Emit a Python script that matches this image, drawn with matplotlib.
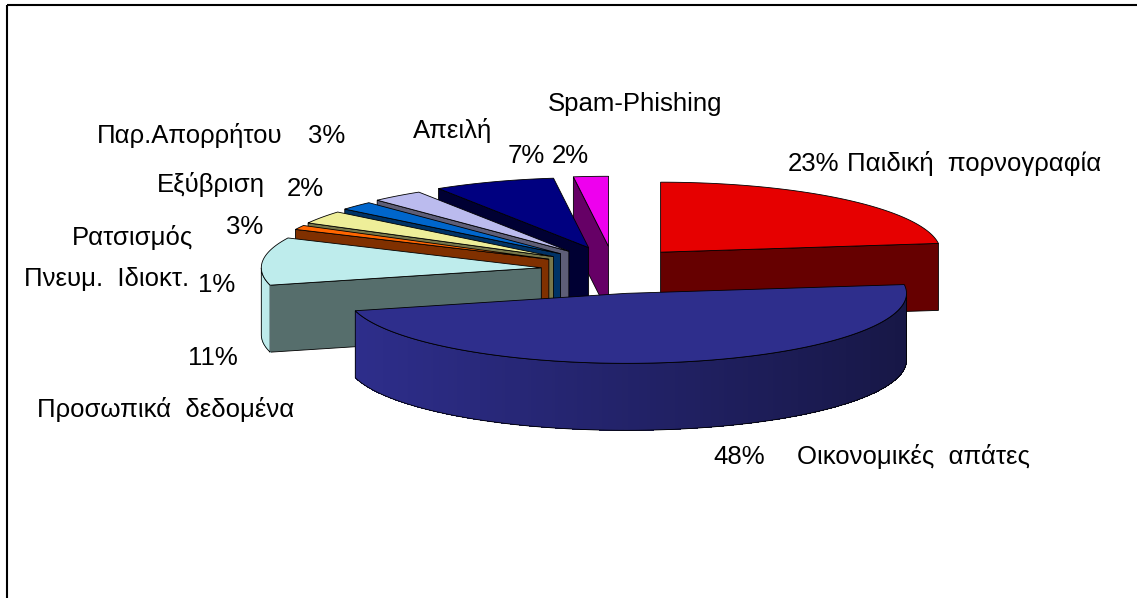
import numpy as np
import matplotlib.pyplot as plt
from matplotlib.patches import Polygon, Rectangle
from matplotlib.collections import PolyCollection
from matplotlib.colors import to_rgb

# data: categories, percentages (clockwise from 12 o'clock)
categories = ['Παιδική  πορνογραφία', 'Οικονομικές  απάτες', 'Προσωπικά  δεδομένα',
              'Πνευμ.  Ιδιοκτ.', 'Ρατσισμός', 'Εξύβριση', 'Παρ.Απορρήτου',
              'Απειλή', 'Spam-Phishing']
values = [23, 48, 11, 1, 3, 2, 3, 7, 2]
top_colors = ['#E60000', '#2E2E8C', '#BEECEC', '#FF6600', '#EEEE99',
              '#0066CC', '#BBBBEE', '#000080', '#EE00EE']
side_colors = ['#660000', '#1A1A4D', '#566E6C', '#803000', '#77774A',
               '#003366', '#5E5E77', '#000033', '#660066']

# label placement (left x, baseline y in pixels)
name_pos = [(847, 171), (797, 464), (37, 417), (24, 286), (72, 245),
            (157, 192), (97, 143), (413, 138), (548, 111)]
pct_pos = [(788, 171), (713, 464), (188, 365), (198, 292), (226, 234),
           (287, 196), (308, 143), (508, 163), (552, 163)]

# 3d pie geometry (pixels)
CX, CY = 613, 270
R = 280
K = 0.25       # vertical squash of the disc
DEPTH = 67
EXPL = 72
KE = 0.33

fig = plt.figure(figsize=(11.37, 5.98), dpi=100)
ax = fig.add_axes([0, 0, 1, 1])
ax.set_xlim(0, 1137)
ax.set_ylim(598, 0)
ax.axis('off')

frac = np.array(values) / np.sum(values)
hi = 90 - 360 * np.concatenate([[0], np.cumsum(frac)[:-1]])
lo = hi - 360 * frac
mid = (hi + lo) / 2


def edge(sx, sy, deg, z=0.0):
    t = np.radians(deg)
    return np.column_stack([sx + R * np.cos(t), sy - K * R * np.sin(t) + z])


order = np.argsort(-np.sin(np.radians(mid)))
for i in order:
    m = np.radians(mid[i])
    sx = CX + EXPL * np.cos(m)
    sy = CY - KE * EXPL * np.sin(m)

    # radial cut faces that face the viewer
    for a, vis in ((hi[i], np.cos(np.radians(hi[i])) < 0),
                   (lo[i], np.cos(np.radians(lo[i])) > 0)):
        if not vis:
            continue
        p = edge(sx, sy, a)[0]
        face = [(sx, sy), p, (p[0], p[1] + DEPTH), (sx, sy + DEPTH)]
        ax.add_patch(Polygon(face, closed=True, fc=side_colors[i], ec='black', lw=0.6))

    # outer wall (front half only), shaded left to right
    ts = np.linspace(hi[i], lo[i], 300)
    ts = ts[np.sin(np.radians(ts)) <= 0]
    if len(ts) > 1:
        up = edge(sx, sy, ts)
        dn = edge(sx, sy, ts, DEPTH)
        base = np.array(to_rgb(top_colors[i]))
        quads, cols = [], []
        for j in range(len(ts) - 1):
            quads.append([up[j], up[j + 1], dn[j + 1], dn[j]])
            c = np.cos(np.radians((ts[j] + ts[j + 1]) / 2))
            cols.append(base * (1.0 - 0.5 * (c + 1) / 2))
        ax.add_collection(PolyCollection(quads, facecolors=cols, edgecolors='none',
                                         linewidths=0, antialiaseds=False))
        outline = np.vstack([up, dn[::-1]])
        ax.add_patch(Polygon(outline, closed=True, fill=False, ec='black', lw=0.6))

    # top face
    arc = edge(sx, sy, np.linspace(hi[i], lo[i], 200))
    top = np.vstack([[sx, sy], arc])
    ax.add_patch(Polygon(top, closed=True, fc=top_colors[i], ec='black', lw=0.6))

fam = ['Liberation Sans', 'DejaVu Sans']
for i in range(len(values)):
    ax.text(*name_pos[i], categories[i], fontsize=18.5, family=fam, va='baseline', ha='left')
    ax.text(*pct_pos[i], f'{values[i]}%', fontsize=18.5, family=fam, va='baseline', ha='left')

# chart area border (top and left visible)
ax.add_patch(Rectangle((7, 5), 1400, 800, fill=False, ec='black', lw=1.5))

fig.savefig('out.png', dpi=100)
